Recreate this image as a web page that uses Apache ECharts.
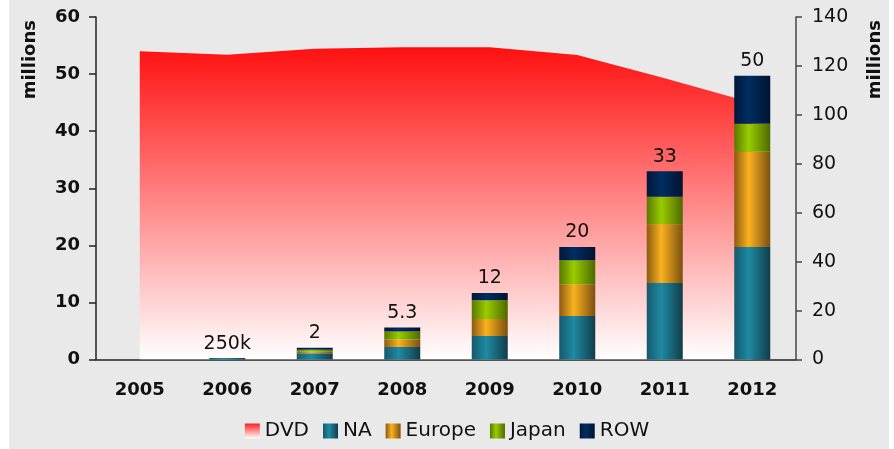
<!DOCTYPE html>
<html>
<head>
<meta charset="utf-8">
<script src="https://cdn.jsdelivr.net/npm/echarts@6/dist/echarts.min.js"></script>
<style>
html, body { margin: 0; padding: 0; background: #fff; }
#chart { width: 894px; height: 449px; }
</style>
</head>
<body>
<div id="chart"></div>
<script>
var years = ['2005', '2006', '2007', '2008', '2009', '2010', '2011', '2012'];
// DVD, read against the right axis
var dvd = [126, 124.6, 127, 127.6, 127.6, 124.5, 115, 105];
// Blu-ray by region, left axis (millions)
var na = [0, 0.25, 1.1, 2.2, 4.1, 7.6, 13.4, 19.7];
var europe = [0, 0, 0.25, 1.3, 3.0, 5.6, 10.3, 16.7];
var japan = [0, 0, 0.35, 1.4, 3.3, 4.2, 4.8, 4.9];
var row = [0, 0, 0.35, 0.7, 1.25, 2.3, 4.5, 8.4];
var totals = ['', '250k', '2', '5.3', '12', '20', '33', '50'];

var font = 'DejaVu Sans';

var hGrad = function (c0, c1, c2) {
    return new echarts.graphic.LinearGradient(0, 0, 1, 0, [
        { offset: 0, color: c0 },
        { offset: 0.4, color: c1 },
        { offset: 1, color: c2 }
    ]);
};

var barSeries = function (name, data, color) {
    return {
        name: name,
        type: 'bar',
        stack: 'bd',
        yAxisIndex: 0,
        barWidth: 36,
        itemStyle: { color: color },
        data: data
    };
};

var init = function () {
    var chart = echarts.init(document.getElementById('chart'));
    var rowSeries = barSeries('ROW', row, hGrad('#00183a', '#002d62', '#001430'));
    rowSeries.label = {
        show: true,
        position: 'top',
        distance: 5,
        color: '#111',
        fontFamily: font,
        fontSize: 19,
        formatter: function (p) { return totals[p.dataIndex]; }
    };
    var option = {
        backgroundColor: '#fff',
        animation: false,
        graphic: [
            { type: 'rect', z: -10, shape: { x: 9, y: 0, width: 880, height: 449 }, style: { fill: '#e9e9e9' } },
            { type: 'text', left: 21, top: 20, rotation: Math.PI / 2,
              style: { text: 'millions', fontFamily: font, fontSize: 18, fontWeight: 'bold', fill: '#111' } },
            { type: 'text', left: 866, top: 20, rotation: Math.PI / 2,
              style: { text: 'millions', fontFamily: font, fontSize: 18, fontWeight: 'bold', fill: '#111' } }
        ],
        legend: {
            data: ['DVD', 'NA', 'Europe', 'Japan', 'ROW'],
            left: 'center',
            bottom: 3,
            itemWidth: 15,
            itemHeight: 15,
            itemGap: 14,
            icon: 'rect',
            textStyle: { fontFamily: font, fontSize: 20, color: '#111' }
        },
        grid: { left: 96, right: 98, top: 17, bottom: 89.5 },
        xAxis: {
            type: 'category',
            data: years,
            axisLine: { lineStyle: { color: '#222', width: 1.5 } },
            axisTick: { length: 7, lineStyle: { color: '#222', width: 1.5 } },
            axisLabel: { margin: 22, color: '#111', fontFamily: font, fontSize: 18, fontWeight: 'bold' }
        },
        yAxis: [
            {
                type: 'value',
                min: 0, max: 60, interval: 10,
                splitLine: { show: false },
                axisLine: { show: true, lineStyle: { color: '#222', width: 1.5 } },
                axisTick: { show: true, length: 7, lineStyle: { color: '#222', width: 1.5 } },
                axisLabel: { margin: 16, color: '#111', fontFamily: font, fontSize: 18, fontWeight: 'bold' }
            },
            {
                type: 'value',
                min: 0, max: 140, interval: 20,
                splitLine: { show: false },
                axisLine: { show: true, lineStyle: { color: '#444', width: 1.5 } },
                axisTick: { show: true, length: 6, lineStyle: { color: '#444', width: 1.5 } },
                axisLabel: { margin: 16, color: '#111', fontFamily: font, fontSize: 19 }
            }
        ],
        series: [
            {
                name: 'DVD',
                type: 'line',
                yAxisIndex: 1,
                symbol: 'none',
                z: 1,
                lineStyle: { width: 0 },
                itemStyle: {
                    color: new echarts.graphic.LinearGradient(0, 0, 0, 1, [
                        { offset: 0, color: '#ff2020' },
                        { offset: 1, color: '#ffffff' }
                    ])
                },
                areaStyle: {
                    opacity: 1,
                    color: new echarts.graphic.LinearGradient(0, 0, 0, 1, [
                        { offset: 0, color: '#ff1010' },
                        { offset: 1, color: '#ffffff' }
                    ])
                },
                data: dvd
            },
            barSeries('NA', na, hGrad('#145a6c', '#1f8aa2', '#113d4a')),
            barSeries('Europe', europe, hGrad('#8a5a10', '#fbb21f', '#7a5010')),
            barSeries('Japan', japan, hGrad('#587800', '#99cc00', '#4d6900')),
            rowSeries
        ]
    };
    chart.setOption(option);
};

init();
</script>
</body>
</html>
